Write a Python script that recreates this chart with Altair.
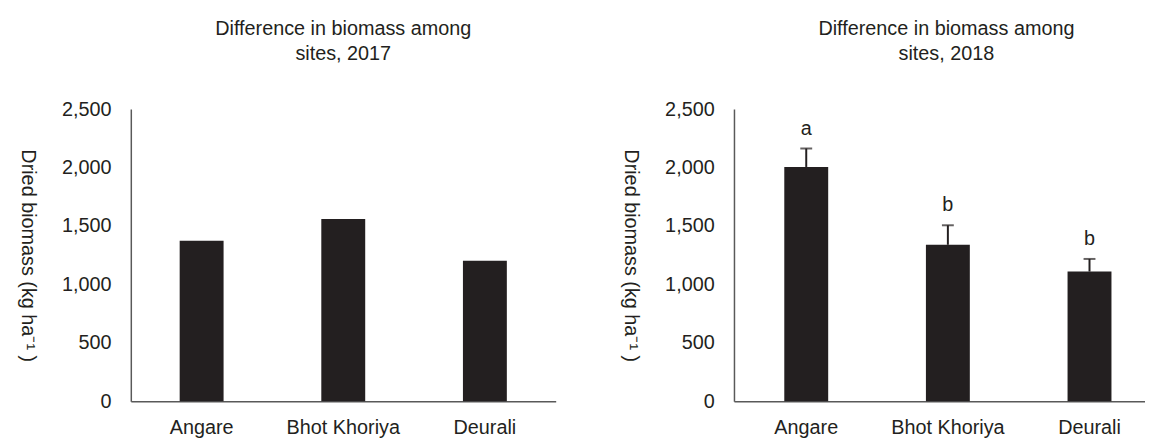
import altair as alt
import pandas as pd

sites = ["Angare", "Bhot Khoriya", "Deurali"]
biomass_2017 = [1373, 1559, 1203]
biomass_2018 = [2005, 1339, 1110]
upper_2018 = [2163, 1506, 1218]
letters_2018 = ["a", "b", "b"]
y_ticks = [0, 500, 1000, 1500, 2000, 2500]

df17 = pd.DataFrame({"site": sites, "biomass": biomass_2017})
df18 = pd.DataFrame({"site": sites, "biomass": biomass_2018,
                     "upper": upper_2018, "letter": letters_2018})

FONT = "Liberation Sans"
BAR = "#231f20"
AXIS = "#595959"
TEXT = "#231f20"
FS = 20


def x_enc(align):
    return alt.X(
        "site:N", sort=sites,
        scale=alt.Scale(paddingInner=0.69, paddingOuter=0.345 if align == 0.5 else 0.296, align=align),
        axis=alt.Axis(title=None, labelAngle=0, ticks=False, labelPadding=17,
                      labelFontSize=FS, labelFont=FONT, labelColor=TEXT,
                      domainColor=AXIS, domainWidth=1.5),
    )


def y_enc():
    return alt.Y(
        "biomass:Q",
        scale=alt.Scale(domain=[0, 2500], nice=False),
        axis=alt.Axis(values=y_ticks, format=",d", grid=False, ticks=False,
                      labelPadding=20, labelFontSize=FS, labelFont=FONT, labelColor=TEXT,
                      domainColor=AXIS, domainWidth=1.5,
                      title="Dried biomass  (kg ha\u207b\u00b9 )", titleAngle=90,
                      titleFontSize=FS, titleFont=FONT, titleFontWeight="normal",
                      titleColor=TEXT, titlePadding=44),
    )


def title(year, dx=0):
    return alt.TitleParams(["Difference in biomass among", f"sites, {year}"],
                           fontSize=FS, font=FONT, fontWeight="normal", color=TEXT,
                           lineHeight=25, offset=36, anchor="middle", dx=dx)


left = alt.Chart(df17).mark_bar(color=BAR).encode(
    x=x_enc(0.5), y=y_enc()
).properties(width=429, height=295, title=title(2017))

base18 = alt.Chart(df18)
bars18 = base18.mark_bar(color=BAR).encode(x=x_enc(0.6), y=y_enc())
err18 = base18.mark_rule(color=BAR, strokeWidth=2).encode(
    x=alt.X("site:N", sort=sites), y="biomass:Q", y2="upper:Q")
cap18 = base18.mark_tick(color=BAR, thickness=2, size=12).encode(
    x=alt.X("site:N", sort=sites), y="upper:Q")
txt18 = base18.mark_text(dy=-14, baseline="alphabetic", fontSize=FS, font=FONT,
                         color=TEXT).encode(
    x=alt.X("site:N", sort=sites), y="upper:Q", text="letter:N")

right = alt.layer(bars18, err18, cap18, txt18).properties(
    width=415, height=295, title=title(2018, dx=7))

chart = alt.hconcat(left, right, spacing=65).properties(
    padding={"left": 9, "top": 9, "right": 0, "bottom": 0},
    background="white",
).configure_view(stroke=None, strokeWidth=0)

chart.save("out.html", embed_options={"renderer": "svg", "actions": False})
